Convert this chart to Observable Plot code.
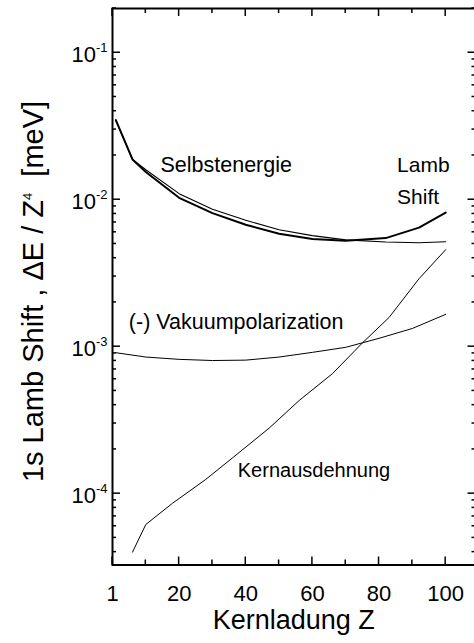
<!DOCTYPE html>
<html>
<head>
<meta charset="utf-8">
<script src="https://cdn.jsdelivr.net/npm/d3@7"></script>
<script src="https://cdn.jsdelivr.net/npm/@observablehq/plot@0.6"></script>
<style>
  html, body { margin: 0; padding: 0; background: #fff; }
  #chart svg text { font-family: "Liberation Sans", Arial, Helvetica, sans-serif; }
</style>
</head>
<body>
<div id="chart"></div>
<script>
// 1s Lamb shift contributions, scaled by Z^4, in meV

// Self energy and total Lamb shift
const zSE = [1, 6, 10, 20, 30, 40, 50, 60, 70, 82, 92, 100];
const selfEnergy = [0.0348, 0.0188, 0.0160, 0.0110, 0.0086, 0.00724, 0.00625, 0.00570, 0.00533, 0.00515, 0.00510, 0.00518];
const lambShift  = [0.0348, 0.0188, 0.01545, 0.0103, 0.0081, 0.00675, 0.00586, 0.00541, 0.00525, 0.00548, 0.00646, 0.00817];

// Vacuum polarization (sign reversed)
const zVP = [1, 10, 20, 30, 40, 50, 60, 70, 80, 90, 100];
const vacuumPol = [9.1e-4, 8.5e-4, 8.2e-4, 8.05e-4, 8.1e-4, 8.5e-4, 9.15e-4, 9.9e-4, 1.14e-3, 1.33e-3, 1.66e-3];

// Finite nuclear size
const zNS = [6, 10, 18, 28, 36, 47, 56, 66, 75, 83, 92, 100];
const nuclearSize = [4.0e-5, 6.17e-5, 8.6e-5, 1.25e-4, 1.75e-4, 2.79e-4, 4.3e-4, 6.55e-4, 1.06e-3, 1.58e-3, 2.9e-3, 4.57e-3];

// Curve labels, placed in data coordinates (Z, value at baseline)
const labelText = ["Selbstenergie", "Lamb\nShift", "(-) Vakuumpolarization", "Kernausdehnung"];
const labelZ = [14.4, 85.4, 4.9, 37.6];
const labelV = [0.01545, 0.00931, 0.001327, 1.294e-4];

// Axis ticks
const majorX = [0, 20, 40, 60, 80, 100];
const minorX = [10, 30, 50, 70, 90];
const majorY = [1e-4, 1e-3, 1e-2, 1e-1];

const xDomain = [0, 109.1];
const yDomain = [3.27e-5, 0.2];
const minorY = d3.scaleLog().domain(yDomain).ticks().filter(d => !majorY.some(m => Math.abs(d / m - 1) < 1e-9));

const series = (zs, vs) => zs.map((z, i) => ({Z: z, v: vs[i]}));
const labels = labelText.map((t, i) => ({text: t, Z: labelZ[i], v: labelV[i]}));

const W = 474, H = 643;

const plot = Plot.plot({
  width: W,
  height: H,
  marginLeft: 112,
  marginRight: -1.5,
  marginTop: 8,
  marginBottom: 78.5,
  style: {background: "white", maxWidth: "none", color: "black"},
  x: {domain: xDomain, axis: null, label: null},
  y: {type: "log", domain: yDomain, axis: null, label: null},
  marks: [
    // tick labels
    Plot.axisX({ticks: majorX, anchor: "bottom", tickSize: 0, tickPadding: 20, label: null, fontSize: 22,
      tickFormat: d => d === 0 ? "1" : String(d)}),
    Plot.axisY({ticks: majorY, anchor: "left", tickSize: 0, tickPadding: 5, label: null, fontSize: 22, dy: 2,
      tickFormat: d => `10^${Math.round(Math.log10(d))}`}),
    // curves
    Plot.line(series(zVP, vacuumPol), {x: "Z", y: "v", stroke: "black", strokeWidth: 1}),
    Plot.line(series(zNS, nuclearSize), {x: "Z", y: "v", stroke: "black", strokeWidth: 1}),
    Plot.line(series(zSE, selfEnergy), {x: "Z", y: "v", stroke: "black", strokeWidth: 1.1}),
    Plot.line(series(zSE, lambShift), {x: "Z", y: "v", stroke: "black", strokeWidth: 2}),
    // labels
    Plot.text([labels[0]], {x: "Z", y: "v", text: "text", textAnchor: "start", lineAnchor: "bottom", fontSize: 21.5, fill: "black"}),
    Plot.text([labels[1]], {x: "Z", y: "v", text: "text", textAnchor: "start", lineAnchor: "bottom", fontSize: 21, lineHeight: 1.54, fill: "black"}),
    Plot.text([labels[2]], {x: "Z", y: "v", text: "text", textAnchor: "start", lineAnchor: "bottom", fontSize: 21.5, fill: "black"}),
    Plot.text([labels[3]], {x: "Z", y: "v", text: "text", textAnchor: "start", lineAnchor: "bottom", fontSize: 20, fill: "black"}),
    Plot.frame({stroke: "black", strokeWidth: 2, fill: "none"})
  ]
});

document.getElementById("chart").appendChild(plot);

const svg = d3.select(plot);

// inward tick marks on all four sides, positioned by the plot's own scales
const sx = plot.scale("x"), sy = plot.scale("y");
const [x0, x1] = sx.range;
const [yb, yt0] = sy.range;
const yBottom = Math.max(yb, yt0), yTop = Math.min(yb, yt0);
const xLeft = Math.min(x0, x1), xRight = Math.max(x0, x1);
const tickG = svg.append("g").attr("stroke", "black").attr("stroke-width", 1.5).attr("fill", "none");
const addX = (vals, len) => vals.forEach(v => {
  const px = sx.apply(v);
  tickG.append("line").attr("x1", px).attr("x2", px).attr("y1", yBottom).attr("y2", yBottom - len);
  tickG.append("line").attr("x1", px).attr("x2", px).attr("y1", yTop).attr("y2", yTop + len);
});
const addY = (vals, len) => vals.forEach(v => {
  const py = sy.apply(v);
  tickG.append("line").attr("x1", xLeft).attr("x2", xLeft + len).attr("y1", py).attr("y2", py);
  tickG.append("line").attr("x1", xRight).attr("x2", xRight - len).attr("y1", py).attr("y2", py);
});
addX(majorX, 8);
addX(minorX, 5);
addY(majorY, 8);
addY(minorY, 4);

// powers of ten with raised exponents
svg.selectAll('g[aria-label="y-axis tick label"] text').each(function () {
  const t = d3.select(this);
  const parts = t.text().split("^");
  if (parts.length !== 2) return;
  t.text(parts[0]);
  t.append("tspan").attr("dy", -10).attr("font-size", 13).text(parts[1]);
});

// axis titles
svg.append("text")
  .attr("x", (xLeft + xRight) / 2)
  .attr("y", 629)
  .attr("text-anchor", "middle")
  .attr("font-size", 27)
  .attr("fill", "black")
  .text("Kernladung Z");

const yt = svg.append("text")
  .attr("transform", "translate(43,291.5) rotate(-90)")
  .attr("text-anchor", "middle")
  .attr("font-size", 29)
  .attr("fill", "black")
  .style("white-space", "pre");
yt.append("tspan").text("1s Lamb Shift , \u0394E / Z");
yt.append("tspan").attr("dy", -11.5).attr("font-size", 13).text("4");
yt.append("tspan").attr("dy", 11.5).text("  [meV]");
</script>
</body>
</html>
